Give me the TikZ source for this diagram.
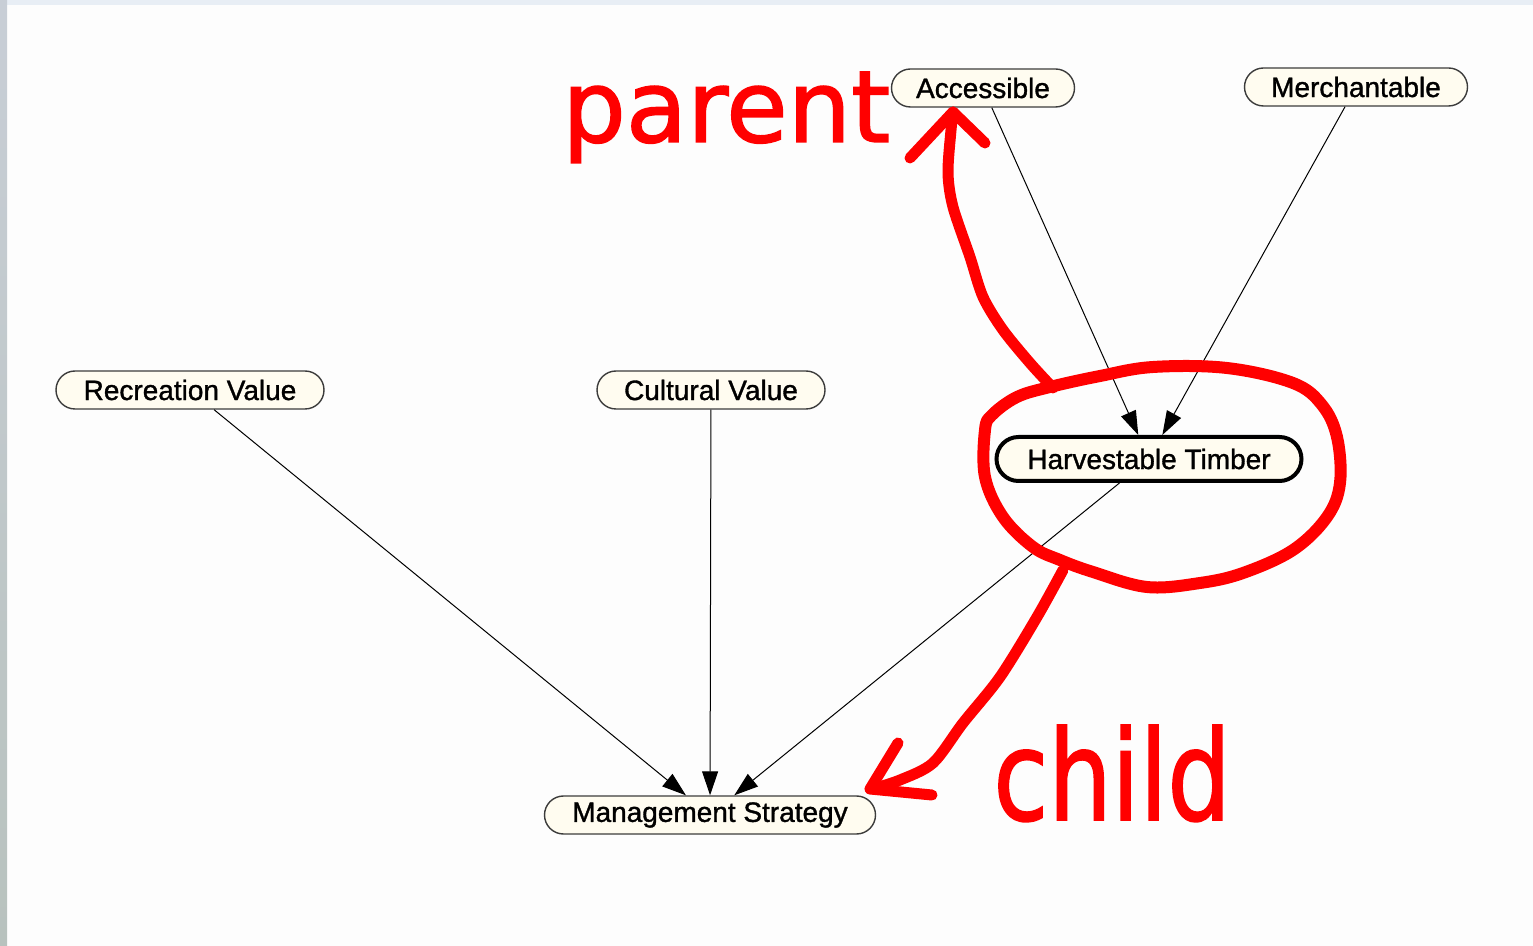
\documentclass[tikz,border=0pt]{standalone}
\usepackage{fontspec}
\setmainfont{Liberation Sans}
\newfontfamily\labelfont[FakeBold=1.2]{Liberation Sans}
\newfontfamily\markerfont[FakeBold=1.5]{DejaVu Sans}
\usetikzlibrary{arrows.meta}
\definecolor{nodefill}{RGB}{255,252,240}
\definecolor{nodeline}{RGB}{60,60,60}
\definecolor{marker}{RGB}{255,0,0}
\definecolor{canvas}{RGB}{253,253,253}
\definecolor{topband}{RGB}{232,238,245}
\begin{document}
\begin{tikzpicture}[x=0.5pt,y=-0.5pt,
  var/.style={draw=nodeline, line width=0.7pt, fill=nodefill, rounded corners=9.5pt,
    minimum height=19pt, inner sep=0pt, font=\labelfont\fontsize{14pt}{16pt}\selectfont},
  focus/.style={var, draw=black, line width=2pt, rounded corners=11pt, minimum height=22pt},
  link/.style={line width=0.5pt, -{Triangle[length=12pt,width=8pt]}},
  ink/.style={draw=marker, line width=5.5pt, line cap=round, line join=round},
  scrawl/.style={text=marker, font=\markerfont\fontsize{50pt}{60pt}\selectfont, inner sep=0pt}
]
% canvas and window edges
\fill[canvas] (0,0) rectangle (1533,946);
\fill[topband] (0,0) rectangle (1533,5);
\shade[top color={rgb,255:red,200;green,206;blue,214}, bottom color={rgb,255:red,184;green,194;blue,190}]
  (0,0) rectangle (7,946);

% network nodes
\node[var, minimum width=91.5pt]  (acc) at (983,88)  {Accessible};
\node[var, minimum width=111.5pt] (mer) at (1356,87) {Merchantable};
\node[var, minimum width=134pt]   (rec) at (190,390) {Recreation Value};
\node[var, minimum width=114pt]   (cul) at (711,390) {Cultural Value};
\node[focus, minimum width=152.5pt] (har) at (1149,459) {Harvestable Timber};
\node[var, minimum width=165.5pt] (man) at (710,815) {Management Strategy};

% dependencies
\draw[link] (acc) -- (har);
\draw[link] (mer) -- (har);
\draw[link] (rec) -- (man);
\draw[link] (cul) -- (man);
\draw[link] (har) -- (man);

% marker annotations
\draw[ink, line width=6pt] plot[smooth cycle, tension=0.6] coordinates {
  (1050,387) (1100,376) (1153,367) (1227,368) (1293,383) (1322,405) (1337,437)
  (1340,483) (1327,517) (1293,550) (1243,573) (1200,583) (1147,587) (1093,572)
  (1060,560) (1033,547) (1003,517) (985,477) (985,430) (992,415) (1017,397)};

\draw[ink] plot[smooth] coordinates {(1053,388) (1030,363) (1003,330) (983,297)
  (970,257) (953,207) (948,173) (951,130) (953,112)};
\draw[ink] (910,158) -- (953,112) -- (985,143);

\draw[ink] plot[smooth] coordinates {(1063,570) (1037,617) (1000,677) (963,723)
  (933,763) (900,780) (872,789)};
\draw[ink] (898,743) -- (870,789) -- (932,795);

\node[scrawl, anchor=base west] (parentlabel) at (562,142) {parent};
\node[scrawl, anchor=base west, yscale=1.25] (childlabel) at (993,820) {child};
\end{tikzpicture}
\end{document}
